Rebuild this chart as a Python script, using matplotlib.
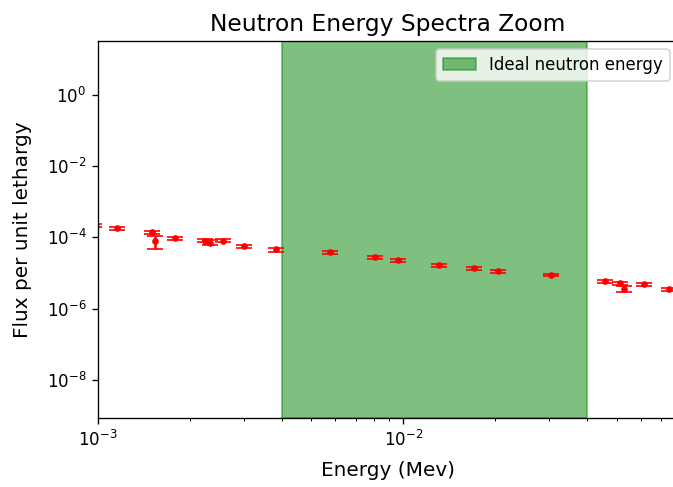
import numpy as np
import matplotlib
matplotlib.use("Agg")
import matplotlib.pyplot as plt
from matplotlib.ticker import NullLocator

# Neutron energy (MeV), flux per unit lethargy and its error
energy = [0.97e-3, 1.155e-3, 1.507e-3, 1.54e-3, 1.79e-3, 2.25e-3, 2.33e-3, 2.56e-3,
          3.0e-3, 3.82e-3, 5.75e-3, 8.09e-3, 9.64e-3, 1.31e-2, 1.71e-2, 2.04e-2,
          3.05e-2, 4.58e-2, 5.14e-2, 5.3e-2, 6.15e-2, 7.45e-2]
flux = [2.2e-4, 1.8e-4, 1.38e-4, 7.7e-5, 9.4e-5, 8.2e-5, 7.2e-5, 8.2e-5,
        5.6e-5, 4.6e-5, 3.8e-5, 2.76e-5, 2.27e-5, 1.65e-5, 1.36e-5, 1.12e-5,
        8.9e-6, 5.9e-6, 5.2e-6, 3.7e-6, 4.8e-6, 3.5e-6]
flux_err = [2e-5, 1.8e-5, 1.4e-5, 3.0e-5, 9e-6, 8e-6, 1.2e-5, 7e-6,
            5e-6, 6e-6, 3e-6, 2.5e-6, 2e-6, 2e-6, 1.2e-6, 1.2e-6,
            8e-7, 5e-7, 5e-7, 7e-7, 4e-7, 4e-7]

# ideal neutron energy window (MeV)
ideal_lo, ideal_hi = 4e-3, 4e-2

fig = plt.figure(figsize=(673 / 120, 487 / 120), dpi=120)
ax = fig.add_axes([98 / 673, 69 / 487, 580 / 673, 377 / 487])

ax.axvspan(ideal_lo, ideal_hi, color='green', alpha=0.5, label='Ideal neutron energy')
ax.errorbar(energy, flux, yerr=flux_err, fmt='.', color='red', capsize=5)

ax.set_xscale('log')
ax.set_yscale('log')
ax.set_xlim(1e-3, 0.0795)
ax.set_ylim(8.7e-10, 32)
ax.set_yticks([1e-8, 1e-6, 1e-4, 1e-2, 1e0])
ax.yaxis.set_minor_locator(NullLocator())

ax.set_title('Neutron Energy Spectra Zoom', fontsize=14)
ax.set_xlabel('Energy (Mev)', fontsize=12, labelpad=7)
ax.set_ylabel('Flux per unit lethargy', fontsize=12, labelpad=9)
ax.legend(loc='upper right')

fig.savefig('out.png', dpi=120)
